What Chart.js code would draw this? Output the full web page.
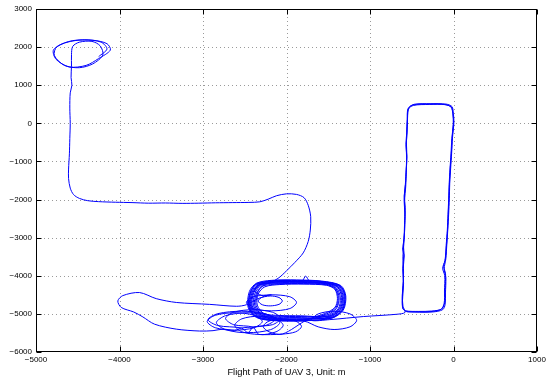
<!DOCTYPE html>
<html>
<head>
<meta charset="utf-8">
<script src="https://cdn.jsdelivr.net/npm/chart.js@4"></script>
<style>
  html, body { margin: 0; padding: 0; background: #fff; }
  canvas { display: block; }
</style>
</head>
<body>
<canvas id="c" width="558" height="378"></canvas>
<script>
// flight path of UAV 3 in metres, in flight order
const startLoops = [
  [-4250, 1750], [-4150, 1950], [-4220, 2130], [-4420, 2190], [-4640, 2120], [-4790, 1930],
  [-4760, 1680], [-4600, 1480], [-4400, 1520], [-4250, 1700], [-4110, 1920], [-4150, 2090],
  [-4320, 2180], [-4560, 2170], [-4750, 2010], [-4780, 1780], [-4660, 1520], [-4480, 1460],
  [-4320, 1560], [-4200, 1790], [-4230, 2030], [-4330, 2150], [-4480, 2130], [-4560, 2020],
  [-4575, 1800]
];

const descentPath = [
  [-4575, 1500], [-4580, 1200], [-4570, 1000], [-4590, 800], [-4595, 400], [-4590, 0],
  [-4595, -400], [-4600, -800], [-4610, -1200], [-4610, -1450], [-4590, -1700], [-4550, -1870],
  [-4480, -1970], [-4380, -2030], [-4250, -2055], [-4050, -2070], [-3850, -2080], [-3650, -2095],
  [-3450, -2090], [-3250, -2100], [-3050, -2095], [-2850, -2085], [-2650, -2080], [-2450, -2075],
  [-2320, -2060], [-2220, -1990], [-2120, -1900], [-2000, -1850], [-1880, -1865], [-1790, -1950],
  [-1740, -2150], [-1710, -2450], [-1715, -2800], [-1740, -3100], [-1800, -3400], [-1900, -3650],
  [-2000, -3870], [-2090, -4050], [-2200, -4180]
];

const boxLoopsA = [
  [-2330, -4230], [-2410, -4430], [-2430, -4800], [-2330, -5060], [-2120, -5140], [-1800, -5150],
  [-1480, -5080], [-1350, -4880], [-1320, -4550], [-1380, -4280], [-1560, -4180], [-1850, -4150],
  [-2150, -4160],
  [-2280, -4260], [-2360, -4460], [-2380, -4780], [-2290, -5020], [-2100, -5080], [-1820, -5090],
  [-1520, -5030], [-1400, -4850], [-1370, -4580], [-1410, -4330], [-1530, -4220], [-1800, -4190],
  [-2100, -4200],
  [-2350, -4200], [-2430, -4420], [-2450, -4820], [-2350, -5090], [-2130, -5170], [-1780, -5180],
  [-1460, -5110], [-1330, -4900], [-1300, -4520], [-1360, -4260], [-1580, -4150], [-1870, -4120],
  [-2170, -4130], [-2330, -4230], [-2380, -4400], [-2300, -4510]
];

const innerLoops = [
  [-2180, -4500], [-2400, -4550], [-2480, -4700], [-2400, -4860], [-2180, -4920], [-1960, -4860],
  [-1880, -4700], [-1960, -4550], [-2180, -4500], [-2290, -4560], [-2340, -4660], [-2290, -4760],
  [-2195, -4790], [-2090, -4750], [-2050, -4660], [-2090, -4570], [-2195, -4530], [-2330, -4590],
  [-2480, -4760]
];

const westLoop = [
  [-2600, -4800], [-2920, -4750], [-3320, -4700], [-3560, -4600], [-3760, -4440], [-3960, -4520],
  [-4020, -4660], [-3980, -4830], [-3830, -4950], [-3720, -5080], [-3580, -5270], [-3320, -5400],
  [-3040, -5450], [-2880, -5440], [-2760, -5400]
];

const smallLoops = [
  [-2620, -5430], [-2387, -5363], [-2290, -5200], [-2387, -5037], [-2620, -4970], [-2853, -5037],
  [-2950, -5200], [-2853, -5363], [-2620, -5430],
  [-2540, -5370], [-2257, -5306], [-2140, -5150], [-2257, -4994], [-2540, -4930], [-2823, -4994],
  [-2940, -5150], [-2823, -5306], [-2540, -5370],
  [-2460, -5490], [-2191, -5414], [-2080, -5230], [-2191, -5046], [-2460, -4970], [-2729, -5046],
  [-2840, -5230], [-2729, -5414], [-2460, -5490],
  [-2400, -5350], [-2167, -5283], [-2070, -5120], [-2167, -4957], [-2400, -4890], [-2633, -4957],
  [-2730, -5120], [-2633, -5283], [-2400, -5350],
  [-2330, -5540], [-2125, -5470], [-2040, -5300], [-2125, -5130], [-2330, -5060], [-2535, -5130],
  [-2620, -5300], [-2535, -5470], [-2330, -5540],
  [-2050, -5530], [-1890, -5470], [-1820, -5330], [-1890, -5190], [-2050, -5130], [-2210, -5190],
  [-2280, -5330], [-2210, -5470], [-2050, -5530], [-1750, -5150]
];

const boxLoopsB = [
  [-1540, -4990], [-1420, -4830], [-1390, -4600], [-1420, -4360], [-1520, -4250], [-1790, -4220],
  [-2080, -4230], [-2260, -4290], [-2340, -4480], [-2350, -4770], [-2270, -4990], [-2090, -5040],
  [-1830, -5050],
  [-1500, -5060], [-1370, -4870], [-1340, -4570], [-1390, -4300], [-1550, -4190], [-1830, -4160],
  [-2130, -4170], [-2310, -4240], [-2390, -4440], [-2410, -4790], [-2310, -5040], [-2110, -5120],
  [-1810, -5130],
  [-1470, -5095], [-1340, -4890], [-1310, -4540], [-1370, -4270], [-1570, -4165], [-1720, -4150],
  [-1770, -4010], [-1820, -4145], [-2160, -4145], [-2340, -4215], [-2420, -4425], [-2440, -4810],
  [-2340, -5075], [-2125, -5155], [-1790, -5165],
  [-1530, -5010], [-1410, -4840], [-1380, -4590], [-1415, -4345], [-1525, -4235], [-1795, -4205],
  [-2090, -4215], [-2290, -4275], [-2350, -4470], [-2365, -4775], [-2280, -5005], [-2095, -5060],
  [-1825, -5070],
  [-1490, -5070], [-1360, -4880], [-1330, -4560], [-1385, -4290], [-1545, -4185], [-1840, -4155],
  [-2140, -4165], [-2320, -4235], [-2400, -4435], [-2420, -4795], [-2320, -5050], [-2115, -5130],
  [-1805, -5140],
  [-1510, -5050], [-1380, -4860], [-1355, -4580], [-1400, -4320], [-1535, -4205], [-1815, -4175],
  [-2115, -4185], [-2300, -4250], [-2375, -4450], [-2395, -4785], [-2300, -5030], [-2105, -5100],
  [-1815, -5110],
  [-1465, -5100], [-1330, -4895], [-1300, -4535], [-1360, -4262], [-1572, -4152], [-1865, -4125],
  [-2170, -4135], [-2350, -4205], [-2432, -4420], [-2450, -4818], [-2350, -5085], [-2132, -5168],
  [-1800, -5178],
  [-1455, -5110], [-1320, -4900], [-1290, -4530], [-1350, -4255], [-1575, -4140], [-1880, -4110],
  [-2180, -4120], [-2360, -4195], [-2445, -4415], [-2460, -4825], [-2360, -5095], [-2140, -5180],
  [-1790, -5190]
];

const eastLoop = [
  [-1620, -5340], [-1430, -5410], [-1240, -5340], [-1160, -5170], [-1240, -5000], [-1430, -4930],
  [-1620, -5000], [-1700, -5170], [-1480, -5150], [-1080, -5070], [-680, -5010], [-580, -4960]
];

const towerLoops = [
  [-605, -4800], [-612, -4500], [-600, -4150], [-608, -3800], [-595, -3450], [-610, -3300],
  [-590, -3000], [-585, -2600], [-578, -2200], [-590, -1900], [-575, -1600], [-565, -1200],
  [-560, -850], [-570, -550], [-560, -250], [-555, 100], [-545, 380], [-490, 480],
  [-300, 505], [-110, 495], [-30, 430], [-8, 250], [0, 0], [-15, -350],
  [-25, -750], [-38, -1150], [-48, -1550], [-55, -1950], [-62, -2350], [-70, -2750],
  [-82, -3150], [-96, -3550], [-118, -3750], [-95, -3950], [-100, -4350], [-105, -4700],
  [-140, -4870], [-260, -4925], [-420, -4935], [-570, -4920], [-605, -4850],
  [-615, -4600], [-605, -4250], [-598, -3900], [-606, -3500], [-594, -3150], [-588, -2750],
  [-583, -2350], [-592, -2000], [-580, -1700], [-568, -1300], [-562, -900], [-566, -600],
  [-558, -300], [-552, 50], [-540, 370], [-480, 470], [-290, 495], [-100, 490],
  [-25, 420], [-5, 230], [-3, -20], [-20, -400], [-30, -800], [-42, -1200],
  [-52, -1600], [-58, -2000], [-66, -2400], [-74, -2800], [-88, -3200], [-102, -3600],
  [-130, -3800], [-105, -4000], [-108, -4400], [-112, -4720], [-150, -4880], [-270, -4940],
  [-430, -4945], [-575, -4930], [-610, -4840],
  [-608, -4550], [-598, -4200], [-604, -3850], [-590, -3480], [-600, -3200], [-586, -2850],
  [-580, -2450], [-586, -2050], [-572, -1650], [-566, -1250], [-558, -880], [-564, -500],
  [-556, -150], [-550, 150], [-538, 400], [-470, 500], [-280, 515], [-90, 505],
  [-18, 440], [-2, 260], [5, 30], [-12, -380], [-22, -780], [-34, -1180],
  [-45, -1580], [-50, -1980], [-58, -2380], [-68, -2780], [-80, -3180], [-92, -3560],
  [-112, -3820], [-92, -4050], [-96, -4450], [-100, -4750], [-130, -4890], [-250, -4950],
  [-410, -4955], [-560, -4945]
];

const xTicks = [-5000, -4000, -3000, -2000, -1000, 0, 1000];
const yTicks = [-6000, -5000, -4000, -3000, -2000, -1000, 0, 1000, 2000, 3000];
const xTitle = 'Flight Path of UAV 3, Unit: m';

const flightPath = [].concat(startLoops, descentPath, boxLoopsA, innerLoops, westLoop,
  smallLoops, boxLoopsB, eastLoop, towerLoops).map(p => ({ x: p[0], y: p[1] }));

const FONT = 'Liberation Sans, Arial, Helvetica, sans-serif';
Chart.defaults.font.family = FONT;
Chart.defaults.color = '#000';

function fmt(v) {
  return v < 0 ? '\u2212' + Math.abs(v) : String(v);
}

// matlab style: dotted grid, closed box, ticks pointing inwards
const matlabFrame = {
  id: 'matlabFrame',
  beforeDatasetsDraw(chart) {
    const { ctx, chartArea: a, scales: { x, y } } = chart;
    ctx.save();
    ctx.strokeStyle = '#9a9a9a';
    ctx.lineWidth = 1;
    ctx.setLineDash([1, 3]);
    xTicks.slice(1, -1).forEach(v => {
      const px = Math.round(x.getPixelForValue(v)) + 0.5;
      ctx.beginPath(); ctx.moveTo(px, a.top); ctx.lineTo(px, a.bottom); ctx.stroke();
    });
    yTicks.slice(1, -1).forEach(v => {
      const py = Math.round(y.getPixelForValue(v)) + 0.5;
      ctx.beginPath(); ctx.moveTo(a.left, py); ctx.lineTo(a.right, py); ctx.stroke();
    });
    ctx.restore();
  },
  afterDatasetsDraw(chart) {
    const { ctx, chartArea: a, scales: { x, y } } = chart;
    const L = Math.round(a.left) + 0.5, R = Math.round(a.right) - 0.5;
    const T = Math.round(a.top) + 0.5, B = Math.round(a.bottom) - 0.5;
    ctx.save();
    ctx.strokeStyle = '#000';
    ctx.lineWidth = 1;
    ctx.setLineDash([]);
    ctx.strokeRect(L, T, R - L, B - T);
    const len = 5;
    ctx.beginPath();
    xTicks.forEach(v => {
      const px = Math.round(x.getPixelForValue(v)) + 0.5;
      ctx.moveTo(px, B); ctx.lineTo(px, B - len);
      ctx.moveTo(px, T); ctx.lineTo(px, T + len);
    });
    yTicks.forEach(v => {
      const py = Math.round(y.getPixelForValue(v)) + 0.5;
      ctx.moveTo(L, py); ctx.lineTo(L + len, py);
      ctx.moveTo(R, py); ctx.lineTo(R - len, py);
    });
    ctx.stroke();
    ctx.restore();
  }
};

new Chart(document.getElementById('c'), {
  type: 'scatter',
  data: {
    datasets: [{
      data: flightPath,
      showLine: true,
      borderColor: '#0000ff',
      borderWidth: 1,
      pointRadius: 0,
      pointHoverRadius: 0,
      tension: 0.3,
      fill: false,
      borderJoinStyle: 'round'
    }]
  },
  options: {
    responsive: false,
    animation: false,
    devicePixelRatio: 1,
    layout: { padding: { top: 9, right: 21, left: 0, bottom: 0 } },
    plugins: { legend: { display: false }, tooltip: { enabled: false } },
    scales: {
      x: {
        type: 'linear',
        min: -5000, max: 1000,
        grid: { display: false, drawTicks: false },
        border: { display: false },
        afterBuildTicks: s => { s.ticks = xTicks.map(v => ({ value: v })); },
        ticks: { padding: 3, font: { size: 8 }, color: '#000', maxRotation: 0, autoSkip: false, callback: fmt },
        title: { display: true, text: xTitle, font: { size: 9.3 }, color: '#000', padding: { top: 0, bottom: 0 } },
        afterFit: s => { s.height = 26; }
      },
      y: {
        type: 'linear',
        min: -6000, max: 3000,
        grid: { display: false, drawTicks: false },
        border: { display: false },
        afterBuildTicks: s => { s.ticks = yTicks.map(v => ({ value: v })); },
        ticks: { padding: 4, font: { size: 8 }, color: '#000', autoSkip: false, callback: fmt },
        afterFit: s => { s.width = 36; }
      }
    }
  },
  plugins: [matlabFrame]
});
</script>
</body>
</html>
